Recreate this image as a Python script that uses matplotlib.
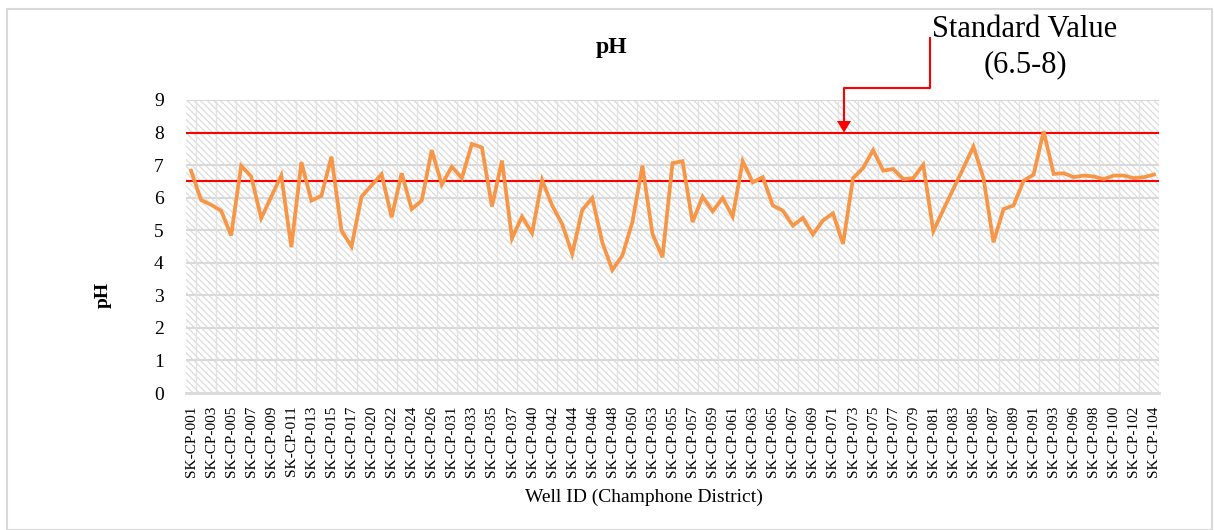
#!/usr/bin/env python3
"""pH of groundwater wells in Champhone District against the 6.5-8 standard."""

import matplotlib

matplotlib.use("Agg")
import matplotlib.pyplot as plt
from matplotlib.lines import Line2D
from matplotlib.patches import Polygon, Rectangle

# Well numbers in survey order (a few IDs are missing from the series)
WELL_NUMS = (
    list(range(1, 18)) + [18] + list(range(20, 27)) + [28]
    + list(range(31, 38)) + [39] + list(range(40, 51)) + [52]
    + list(range(53, 94)) + [95] + list(range(96, 105))
)
WELL_IDS = [f"SK-CP-{n:03d}" for n in WELL_NUMS]

PH = [
    6.83, 5.93, 5.78, 5.60, 4.84, 6.98, 6.65, 5.37, 6.03, 6.68,
    4.48, 7.09, 5.91, 6.06, 7.26, 4.99, 4.50, 6.03, 6.38, 6.72,
    5.40, 6.75, 5.65, 5.91, 7.46, 6.40, 6.95, 6.60, 7.65, 7.54,
    5.73, 7.14, 4.75, 5.42, 4.91, 6.54, 5.76, 5.19, 4.27, 5.62,
    5.99, 4.63, 3.78, 4.22, 5.25, 6.98, 4.89, 4.17, 7.06, 7.12,
    5.25, 6.03, 5.58, 5.99, 5.42, 7.12, 6.47, 6.63, 5.76, 5.60,
    5.14, 5.38, 4.87, 5.30, 5.52, 4.58, 6.60, 6.91, 7.46, 6.83,
    6.88, 6.57, 6.60, 7.01, 4.97, 5.63, 6.27, 6.91, 7.57, 6.60,
    4.63, 5.65, 5.76, 6.52, 6.71, 8.04, 6.73, 6.75, 6.63, 6.68,
    6.65, 6.57, 6.68, 6.68, 6.60, 6.63, 6.71,
]

STANDARD_LOW = 6.5
STANDARD_HIGH = 8.0

W, H = 1214, 530


def fx(px):
    return px / W


def fy(py):
    return 1 - py / H


plt.rcParams["font.family"] = ["Liberation Serif", "DejaVu Serif"]
plt.rcParams["hatch.linewidth"] = 0.9

fig = plt.figure(figsize=(W / 100, H / 100), dpi=100)
fig.add_artist(Rectangle((fx(7), 0.0), fx(1212) - fx(7), fy(9), transform=fig.transFigure,
                         fill=False, edgecolor="#d9d9d9", linewidth=1.5))

ax = fig.add_axes([fx(186), fy(393), fx(1159) - fx(186), fy(100) - fy(393)])
x = list(range(len(PH)))

# hatched plot area
ax.patch.set_visible(False)
ax.add_patch(Rectangle((0, 0), 1, 1, transform=ax.transAxes, facecolor="white",
                       edgecolor="#dcdcdc", hatch="\\\\\\\\\\", linewidth=0, zorder=0))

for yv in range(1, 10):
    ax.axhline(yv, color="#d9d9d9", linewidth=1.5, zorder=1)
for xv in range(0, len(PH), 2):
    ax.axvline(xv + 0.5, color="#e2e2e2", linewidth=1.0, zorder=1)

ax.axhline(STANDARD_HIGH, color="#ff0000", linewidth=1.5, zorder=3)
ax.axhline(STANDARD_LOW, color="#ff0000", linewidth=1.5, zorder=3)
ax.plot(x, PH, color="#f79646", linewidth=2.7, solid_joinstyle="miter", zorder=4)

ax.set_xlim(-0.5, len(PH) - 0.5)
ax.set_ylim(0, 9)
ax.set_yticks(range(0, 10))
ax.set_xticks(x[::2])
ax.set_xticklabels(WELL_IDS[::2], rotation=90, fontsize=11)
ax.tick_params(axis="x", length=0, pad=9)
ax.tick_params(axis="y", length=0, pad=16, labelsize=14)
for side in ("top", "right", "left"):
    ax.spines[side].set_visible(False)
ax.spines["bottom"].set_color("#d9d9d9")
ax.spines["bottom"].set_linewidth(2)
ax.spines["bottom"].set_zorder(2)

fig.text(fx(611), fy(48), "pH", ha="center", va="center", fontsize=17, fontweight="bold")
fig.text(fx(103), fy(295), "pH", ha="center", va="center", rotation=90,
         fontsize=14, fontweight="bold")
fig.text(fx(644), fy(497), "Well ID (Champhone District)", ha="center", va="center", fontsize=14)

# standard value callout
fig.text(fx(1025), fy(47), "Standard Value\n(6.5-8)", ha="center", va="center",
         fontsize=22, linespacing=1.3)
path_x = [930, 930, 844, 844]
path_y = [38, 88, 88, 122]
fig.add_artist(Line2D([fx(v) for v in path_x], [fy(v) for v in path_y],
                      transform=fig.transFigure, color="#ff0000", linewidth=1.5))
tip_y = H - ax.transData.transform((0, STANDARD_HIGH))[1]
fig.add_artist(Polygon([(fx(837), fy(121)), (fx(851), fy(121)), (fx(844), fy(tip_y))],
                       closed=True, transform=fig.transFigure, color="#ff0000", linewidth=0))

fig.savefig("out.png", dpi=100)
